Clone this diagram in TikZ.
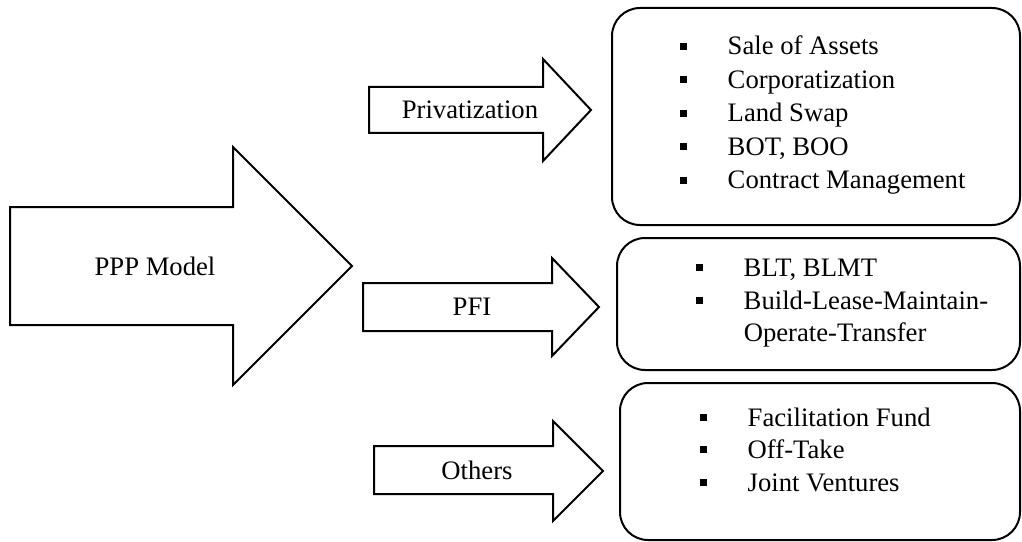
\documentclass[tikz,border=0pt]{standalone}
\usepackage{fontspec}
\setmainfont{Liberation Serif}
\usetikzlibrary{positioning}

\tikzset{
    fatarrow/.style={draw, line width=1.5pt, line join=miter, fill=white},
    listbox/.style={draw, line width=1.5pt, rounded corners=21pt, inner sep=0pt, outer sep=0pt},
    arrow label/.style={font=\fontsize{20}{24}\selectfont, inner sep=0pt},
    item/.style={font=\fontsize{20}{24}\selectfont, anchor=base west, inner sep=0pt}
}
\newcommand{\sqbul}{\rule[3.9pt]{5.2pt}{5.2pt}\hspace{30.4pt}}

\begin{document}
\begin{tikzpicture}[x=0.75pt, y=-0.75pt]
    \useasboundingbox (0,0) rectangle (1022,542);

    % Big arrow
    \draw[fatarrow] (10,207) -- (233,207) -- (233,147) -- (352,266) -- (233,385) -- (233,325) -- (10,325) -- cycle;
    \node[arrow label] (ppp) at (155,266) {PPP Model};

    % Small arrows
    \draw[fatarrow] (369,87) -- (543,87) -- (543,59) -- (591,110) -- (543,161) -- (543,133) -- (369,133) -- cycle;
    \node[arrow label] (priv) at (470,110) {Privatization};

    \draw[fatarrow] (363,283) -- (552,283) -- (552,258) -- (599,307) -- (552,356) -- (552,331) -- (363,331) -- cycle;
    \node[arrow label] (pfi) at (472,307) {PFI};

    \draw[fatarrow] (374,446) -- (553,446) -- (553,421) -- (603,471) -- (553,521) -- (553,494) -- (374,494) -- cycle;
    \node[arrow label] (others) at (477,470) {Others};

    % Boxes
    \node[listbox, minimum width=306pt, minimum height=162.75pt] (privbox) at (816,116.5) {};
    \node[listbox, minimum width=302.25pt, minimum height=99pt] (pfibox) at (818.5,304) {};
    \node[listbox, minimum width=300pt, minimum height=117.75pt] (othbox) at (820,461.5) {};

    % Lists
    \foreach \txt [count=\i] in {Sale of Assets, Corporatization, Land Swap, {BOT, BOO}, Contract Management} {
        \node[item] (priv-\i) at (680,{55+33.5*(\i-1)}) {\sqbul\txt};
    }
    \node[item] (pfi-1) at (696,276) {\sqbul BLT, BLMT};
    \node[item] (pfi-2) at (696,309) {\sqbul Build-Lease-Maintain-};
    \node[item] (pfi-3) at (743.5,341) {Operate-Transfer};
    \foreach \txt [count=\i] in {Facilitation Fund, Off-Take, Joint Ventures} {
        \node[item] (oth-\i) at (700,{426+32.5*(\i-1)}) {\sqbul\txt};
    }

\end{tikzpicture}
\end{document}
